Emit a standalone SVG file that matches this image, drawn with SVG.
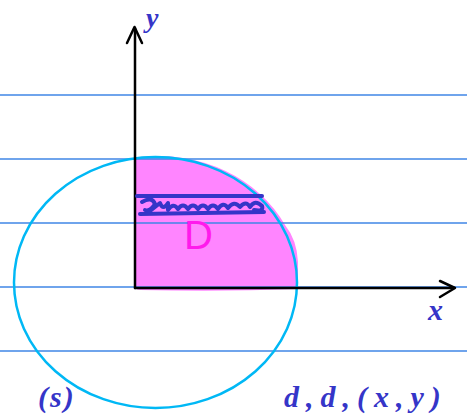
<svg xmlns="http://www.w3.org/2000/svg" width="467" height="414" viewBox="0 0 467 414">
<style>
.rule{stroke:#3f86e6;stroke-width:1.3;fill:none}
.axis{stroke:#000;stroke-width:2.5;fill:none;stroke-linecap:round;stroke-linejoin:round}
.ink{fill:#3535c8;font-family:"Liberation Serif",serif;font-style:italic;font-weight:bold}
.hatch{stroke:#3535c8;stroke-width:4;fill:none;stroke-linecap:round;stroke-linejoin:round}
</style>
<rect width="467" height="414" fill="#fff"/>
<g id="region-D">
<path d="M134,163 Q133,157 142,157 A141.5,125.5 0 0 1 285,225 Q297,240 298,262 L298,289 Q220,292 140,290 Q134,290 134,282 Z" fill="#ff85ff"/>
</g>
<g id="rules">
<line class="rule" x1="0" y1="95" x2="467" y2="95"/>
<line class="rule" x1="0" y1="159" x2="467" y2="159"/>
<line class="rule" x1="0" y1="223" x2="467" y2="223"/>
<line class="rule" x1="0" y1="287" x2="467" y2="287"/>
<line class="rule" x1="0" y1="351" x2="467" y2="351"/>
</g>
<g id="ellipse">
<ellipse cx="155.5" cy="282.5" rx="141.5" ry="125.5" fill="none" stroke="#00b8f5" stroke-width="2.5"/>
</g>
<g id="connectors">
<path class="axis" d="M135,288 L135,28"/>
<path class="axis" d="M127,43 L134.5,27 L142,43"/>
<path class="axis" d="M135,288 L454,288"/>
<path class="axis" d="M440,281 L455,288 L440,297"/>
</g>
<g id="strip">
<path class="hatch" d="M137,196 L262,196"/>
<path class="hatch" d="M140,214 L264,212"/>
<path class="hatch" stroke-width="3.5" d="M142,202 Q152,196 155,204 Q150,212 145,210 M150,211 L160,203 Q163,211 168,203 L168,210 Q173,202 178,209 Q183,202 188,209 Q193,202 198,209 Q203,202 208,209 Q213,202 218,209 Q223,201 228,208 Q234,200 240,207 Q246,200 250,207 Q255,199 262,206 Q264,212 254,210"/>
</g>
<g id="label-D">
<text x="184" y="249" font-family="Liberation Sans,sans-serif" font-size="40" fill="#ff1aec">D</text>
</g>
<g id="label-y">
<text class="ink" x="146" y="27" font-size="28">y</text>
</g>
<g id="label-x">
<text class="ink" x="428" y="320" font-size="30">x</text>
</g>
<g id="bottom-text">
<text class="ink" x="38" y="407" font-size="30" letter-spacing="2">(s)</text>
<text class="ink" x="284" y="407" font-size="30" letter-spacing="7">d,d,(x,y)</text>
</g>
</svg>
